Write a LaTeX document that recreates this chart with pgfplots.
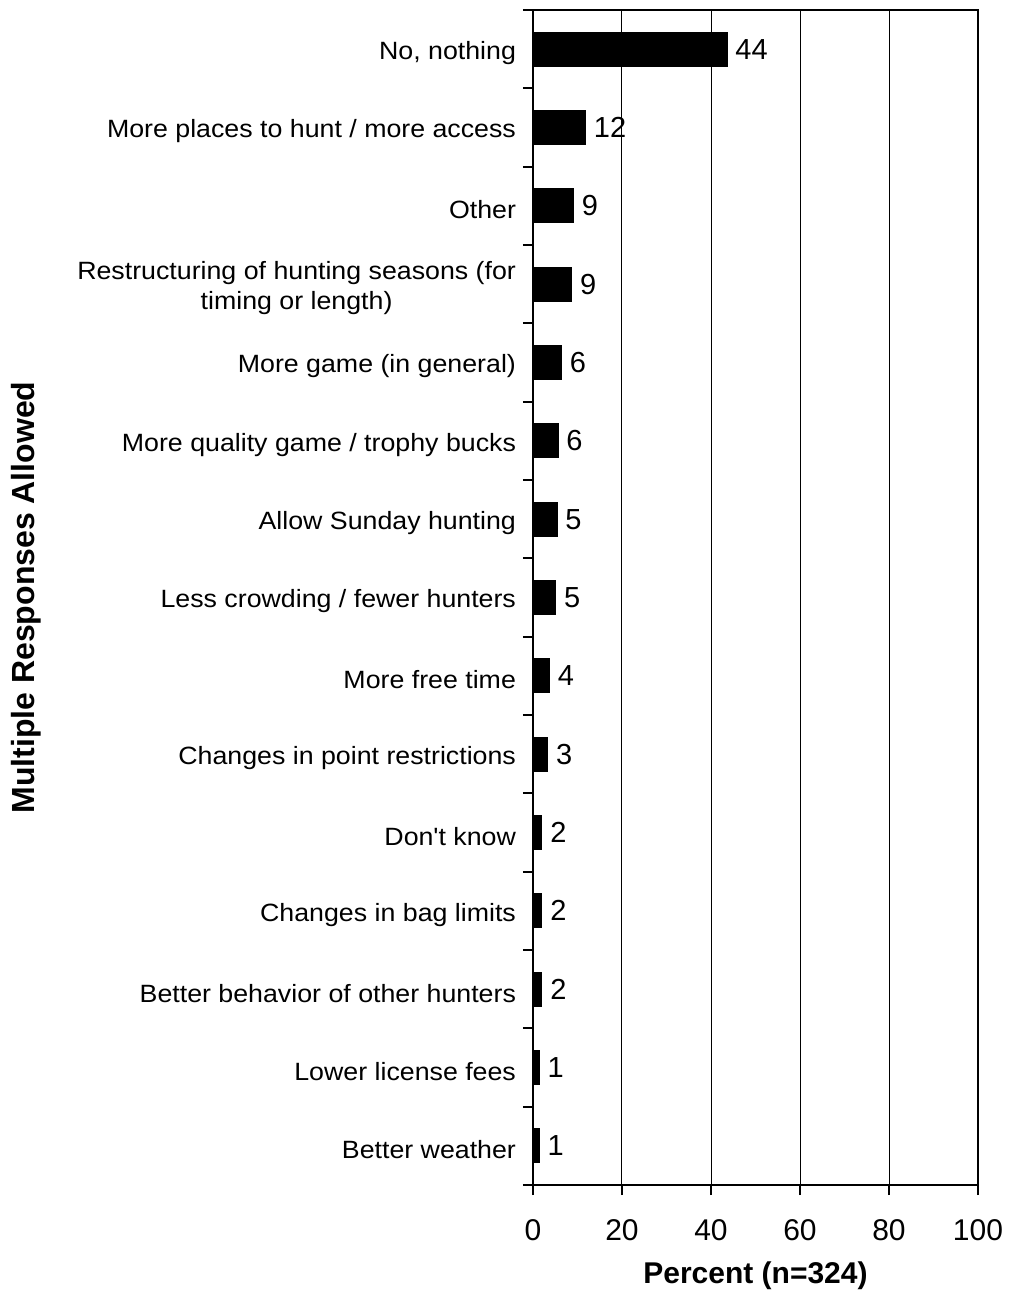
\documentclass[border=0pt]{standalone}
\usepackage{fontspec}
\setmainfont{Liberation Sans}
\newfontfamily\catfont[FakeStretch=1.07]{Liberation Sans}
\usepackage{pgfplots}
\usepackage{pgfplotstable}
\pgfplotsset{compat=1.18}
\pgfplotstableread{
y x lab
0 43.6 44
1 11.8 12
2 9.1 9
3 8.7 9
4 6.4 6
5 5.6 6
6 5.4 5
7 5.1 5
8 3.7 4
9 3.3 3
10 2.0 2
11 2.0 2
12 2.0 2
13 1.4 1
14 1.4 1
}\data
\begin{document}
\begin{tikzpicture}
\begin{axis}[
  name=ax,
  scale only axis, width=222.5pt, height=587.5pt,
  xmin=0, xmax=100, ymin=-0.5, ymax=14.5, y dir=reverse,
  xbar, bar width=17pt,
  axis line style={line width=1pt},
  /pgf/number format/assume math mode=true,
  xtick={0,20,...,100}, xtick pos=lower, ytick pos=left,
  tick align=outside, major tick length=5pt,
  tick style={line width=1pt, black},
  xmajorgrids, grid style={line width=0.5pt, black},
  xticklabel style={font=\fontsize{15}{17}\selectfont, yshift=-8.5pt},
  ytick={-0.5,0.5,...,14.5}, yticklabels={},
  extra y ticks={0,1,...,14},
  extra y tick style={major tick length=0pt},
  extra y tick labels={{No, nothing},{More places to hunt / more access},{Other},{Restructuring of hunting seasons (for\\timing or length)},{More game (in general)},{More quality game / trophy bucks},{Allow Sunday hunting},{Less crowding / fewer hunters},{More free time},{Changes in point restrictions},{Don't know},{Changes in bag limits},{Better behavior of other hunters},{Lower license fees},{Better weather}},
  yticklabel style={font=\catfont\fontsize{12.5}{15}\selectfont, align=center, xshift=-5pt, yshift=-2pt},
  xlabel={\textbf{Percent (n=324)}},
  xlabel style={font=\fontsize{15}{17}\selectfont, at={(axis description cs:0.5,0)}, anchor=base, yshift=-49pt},
  ylabel={\textbf{Multiple Responses Allowed}},
  ylabel style={font=\fontsize{16}{18}\selectfont, at={(axis description cs:-1.1393,0.5)}, anchor=center},
  point meta=explicit symbolic,
  nodes near coords={\pgfplotspointmeta},
  nodes near coords style={anchor=west, inner sep=0pt, xshift=4pt, font=\fontsize{14.5}{16}\selectfont, text=black},
]
\addplot[fill=black, draw=black] table[x=x, y=y, meta=lab] {\data};
\end{axis}
\pgfresetboundingbox
\useasboundingbox ([xshift=-266.5pt,yshift=5pt]ax.north west) rectangle ([xshift=15.5pt,yshift=-56.5pt]ax.south east);
\end{tikzpicture}
\end{document}
